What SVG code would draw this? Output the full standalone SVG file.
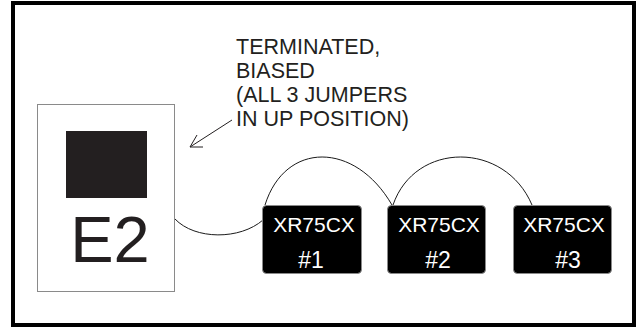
<svg xmlns="http://www.w3.org/2000/svg" width="637" height="327" viewBox="0 0 637 327">
<style>
.lbl{font-family:"Liberation Sans",Arial,sans-serif;fill:#231f20;}
.wt{font-family:"Liberation Sans",Arial,sans-serif;fill:#ffffff;text-anchor:middle;}
.wire{fill:none;stroke:#1a1a1a;stroke-width:1;}
.dev{fill:#000000;stroke:#8a8a8a;stroke-width:1;}
</style>
<rect x="13" y="3" width="621" height="322" fill="#ffffff" stroke="#000000" stroke-width="4"/>
<g id="connectors">
<path class="wire" d="M175,219 C195,240 240,240 263,220"/>
<path class="wire" d="M265,205 C285,141 355,141 392,205"/>
<path class="wire" d="M393,205 C415,141 505,141 532,205"/>
<path d="M232,120 L190,147 M197,135 L190,147 L203,147" fill="none" stroke="#231f20" stroke-width="1"/>
</g>
<g id="e2">
<rect x="37.5" y="104.5" width="137" height="187" fill="#ffffff" stroke="#8a8a8a" stroke-width="1"/>
<rect x="66" y="131" width="81" height="67" fill="#231f20"/>
<text class="lbl" x="110" y="262" font-size="65" text-anchor="middle">E2</text>
</g>
<g id="note">
<text class="lbl" font-size="21.5">
<tspan x="236" y="54">TERMINATED,</tspan>
<tspan x="236" y="78">BIASED</tspan>
<tspan x="236" y="102">(ALL 3 JUMPERS</tspan>
<tspan x="236" y="126">IN UP POSITION)</tspan>
</text>
</g>
<g id="xr1">
<rect class="dev" x="262.5" y="205.5" width="99" height="68" rx="4"/>
<text class="wt" x="314" y="232" font-size="21">XR75CX</text>
<text class="wt" x="311" y="268" font-size="23">#1</text>
</g>
<g id="xr2">
<rect class="dev" x="387.5" y="205.5" width="98" height="68" rx="4"/>
<text class="wt" x="439" y="232" font-size="21">XR75CX</text>
<text class="wt" x="438" y="268" font-size="23">#2</text>
</g>
<g id="xr3">
<rect class="dev" x="513.5" y="205.5" width="98" height="68" rx="4"/>
<text class="wt" x="564" y="232" font-size="21">XR75CX</text>
<text class="wt" x="568" y="268" font-size="23">#3</text>
</g>
</svg>
